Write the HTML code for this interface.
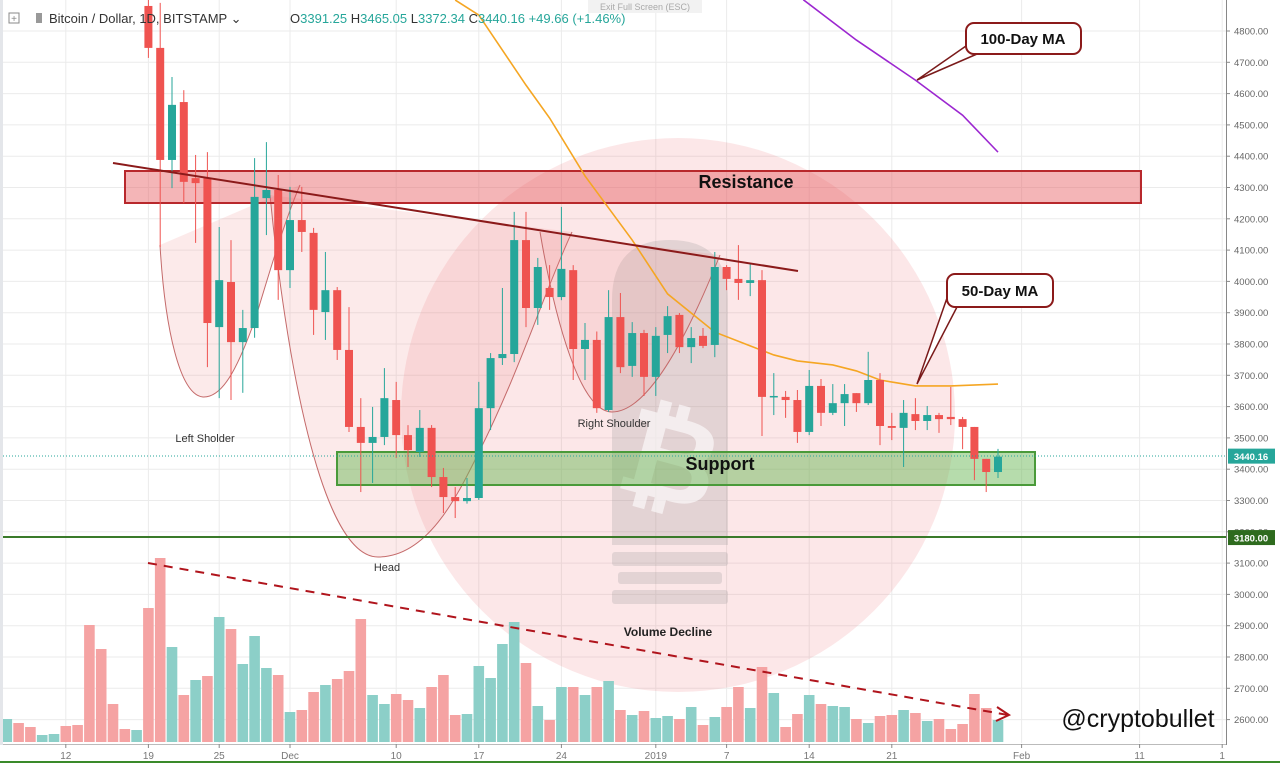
<!DOCTYPE html>
<html><head><meta charset="utf-8"><style>
html,body{margin:0;padding:0;background:#fff;width:1280px;height:763px;overflow:hidden}
svg{display:block;font-family:"Liberation Sans",sans-serif}
</style></head><body>
<svg id="chart" width="1280" height="763" viewBox="0 0 1280 763" xmlns="http://www.w3.org/2000/svg">
<g id="grid"></g>
<circle cx="678" cy="415" r="277" fill="rgba(240,110,120,0.17)"/>
<g fill="rgba(150,150,150,0.25)">
<path d="M612 300 Q612 240 670 240 Q728 240 728 300 L728 545 L612 545 Z"/>
<rect x="612" y="552" width="116" height="14" rx="3"/><rect x="618" y="572" width="104" height="12" rx="3"/><rect x="612" y="590" width="116" height="14" rx="3"/>
<text x="670" y="500" font-size="120" font-weight="bold" text-anchor="middle" fill="rgba(255,255,255,0.6)" transform="rotate(15 670 460)">₿</text>
</g>
<g fill="rgba(240,140,140,0.18)" stroke="#c46a6a" stroke-width="1">
<path d="M160 245 C165 330 180 395 203 397 C225 398 240 360 255 320 C270 270 285 220 300 185"/>
<path d="M270 195 C285 350 320 557 378 557 C430 557 460 490 480 450 C520 370 545 290 572 232"/>
<path d="M540 232 C555 320 580 412 612 412 C650 412 690 330 720 255"/>
</g>
<rect x="125" y="171" width="1016" height="32" fill="rgba(230,90,95,0.45)" stroke="#b8282c" stroke-width="2"/>
<text x="746" y="188" font-size="18" font-weight="bold" text-anchor="middle" fill="#111">Resistance</text>
<rect x="337" y="452" width="698" height="33" fill="rgba(110,185,90,0.5)" stroke="#4a9a3a" stroke-width="2"/>
<g id="ma"></g>
<g id="candles"></g>
<g id="vols"></g>
<text x="720" y="470" font-size="18" font-weight="bold" text-anchor="middle" fill="#111">Support</text>
<line x1="113" y1="163" x2="798" y2="271" stroke="#8b1a1a" stroke-width="2"/>
<line x1="0" y1="456" x2="1226" y2="456" stroke="#26a69a" stroke-width="1" stroke-dasharray="1,2"/>
<line x1="0" y1="537" x2="1226" y2="537" stroke="#3a7a2a" stroke-width="2"/>
<g stroke="#b0141c" stroke-width="2" fill="none">
<line x1="148" y1="563" x2="1008" y2="715" stroke-dasharray="9,7"/>
<path d="M997 707 L1009 715 L996 721"/>
</g>
<text x="668" y="636" font-size="12" font-weight="bold" text-anchor="middle" fill="#222">Volume Decline</text>
<g font-size="11" fill="#333" text-anchor="middle">
<text x="205" y="442">Left Sholder</text>
<text x="387" y="571">Head</text>
<text x="614" y="427">Right Shoulder</text>
</g>
<g>
<path d="M966 46 L917 80 L977 54" fill="#fff" stroke="#7a1a1a" stroke-width="1.5"/>
<rect x="966" y="23" width="115" height="31" rx="8" fill="#fff" stroke="#8b1a1a" stroke-width="2"/>
<text x="1023" y="44" font-size="15" font-weight="bold" text-anchor="middle" fill="#111">100-Day MA</text>
</g>
<g>
<path d="M947 298 L917 384 L957 307" fill="#fff" stroke="#7a1a1a" stroke-width="1.5"/>
<rect x="947" y="274" width="106" height="33" rx="8" fill="#fff" stroke="#8b1a1a" stroke-width="2"/>
<text x="1000" y="296" font-size="15" font-weight="bold" text-anchor="middle" fill="#111">50-Day MA</text>
</g>
<g id="axes"></g>
<text x="1138" y="727" font-size="25" text-anchor="middle" fill="#111">@cryptobullet</text>
<g font-size="13">
<rect x="9" y="13" width="10" height="10" fill="none" stroke="#888"/>
<text x="14" y="22" font-size="10" text-anchor="middle" fill="#888">+</text>
<rect x="36" y="13" width="6" height="10" fill="#999"/>
<text x="49" y="23" fill="#333">Bitcoin / Dollar, 1D, BITSTAMP ⌄</text>
<text x="290" y="23" fill="#333">O<tspan fill="#26a69a">3391.25</tspan>  H<tspan fill="#26a69a">3465.05</tspan>  L<tspan fill="#26a69a">3372.34</tspan>  C<tspan fill="#26a69a">3440.16</tspan>  <tspan fill="#26a69a">+49.66 (+1.46%)</tspan></text>
<rect x="588" y="0" width="114" height="13" fill="#f2f2f2"/>
<text x="645" y="10" font-size="9" text-anchor="middle" fill="#aaa">Exit Full Screen (ESC)</text>
</g>
</svg>
<script>
const candleStart = -12; // Nov 19 relative to Dec 1
const opens  = [4880,4746,4388,4573,4330,4330,3854,3998,3806,3851,4266,4292,4036,4196,4155,3902,3972,3781,3535,3484,3503,3621,3509,3455,3532,3375,3311,3298,3308,3595,3755,3768,4132,3915,3979,3950,4036,3784,3813,3589,3886,3730,3835,3695,3829,3893,3790,3826,3797,4046,4008,3995,4004,3631,3631,3621,3519,3666,3580,3611,3643,3611,3685,3538,3532,3576,3554,3573,3567,3560,3535,3433,3391];
const highs  = [4950,4890,4653,4611,4404,4413,4174,4132,3909,4394,4445,4340,4302,4302,4171,4094,3982,3918,3627,3599,3723,3679,3541,3589,3541,3404,3343,3372,3679,3771,3979,4222,4222,4075,4052,4238,4052,3867,3840,3972,3963,3870,3845,3854,3921,3899,3854,3851,4094,4052,4116,4059,4036,3707,3650,3653,3717,3688,3672,3672,3643,3775,3707,3580,3621,3627,3602,3580,3663,3567,3535,3433,3465];
const lows   = [4714,4110,4298,4250,4123,3726,3627,3621,3644,3820,4148,3941,3979,4094,3829,3813,3749,3519,3327,3356,3477,3436,3407,3439,3343,3260,3244,3290,3302,3525,3733,3742,3854,3861,3909,3940,3685,3685,3580,3583,3707,3695,3634,3634,3771,3771,3739,3787,3758,3972,3941,3953,3506,3573,3564,3484,3509,3538,3573,3538,3583,3605,3477,3493,3407,3525,3525,3516,3541,3464,3365,3327,3372];
const closes = [4746,4388,4564,4318,4314,3867,4004,3806,3851,4270,4292,4036,4196,4158,3909,3972,3781,3535,3484,3503,3627,3509,3461,3532,3375,3311,3298,3308,3595,3755,3768,4132,3915,4046,3950,4040,3784,3813,3595,3886,3726,3835,3695,3826,3889,3790,3819,3794,4046,4008,3995,4004,3631,3634,3621,3519,3666,3580,3611,3640,3611,3685,3538,3532,3580,3554,3573,3560,3560,3535,3433,3391,3440];
const volStart = -24; // Nov 7
const volumes = [23,19,15,7,8,16,17,117,93,38,13,12,134,184,95,47,62,66,125,113,78,106,74,67,30,32,50,57,63,71,123,47,38,48,42,34,55,67,27,28,76,64,98,120,79,36,22,55,55,47,55,61,32,27,31,24,26,23,35,17,25,35,55,34,75,49,15,28,47,38,36,35,23,19,26,27,32,29,21,23,13,18,48,34,22];
const volColors = "grrggrrrrrrgrrgrgrgrgggrgrrgrrrggrrgrrrggggg" + "rgrgrgrgrgrggrgrgrrgrgrrgrggrgrrgrgrrrrrg";
const ma50Days = [14,16,20,22,25,29,32,36,39,41,43,46,48,50,53,56,60];
const ma50Vals = [4899,4851,4627,4522,4337,4132,3960,3838,3794,3765,3746,3733,3714,3685,3666,3666,3672];
const ma100Days = [43.5,48,53,57,60];
const ma100Vals = [4900,4771,4643,4531,4413];
const priceTicks = [4800,4700,4600,4500,4400,4300,4200,4100,4000,3900,3800,3700,3600,3500,3400,3300,3200,3100,3000,2900,2800,2700,2600];
const dateTickDays = [-19,-12,-6,0,9,16,23,31,37,44,51,62,72,79];
const dateTickLabels = ["12","19","25","Dec","10","17","24","2019","7","14","21","Feb","11","1"];

const NS = "http://www.w3.org/2000/svg";
const xD = d => 290 + d * 11.8;
const yP = p => 31 + (4800 - p) * 0.313;
const yV = v => 742 - v;
function mk(tag, attrs, parent){ const e=document.createElementNS(NS,tag); for(const k in attrs) e.setAttribute(k,attrs[k]); parent.appendChild(e); return e; }

const grid = document.getElementById('grid');
priceTicks.forEach(p=>{ const l=mk('line',{x1:0,x2:1226,y1:yP(p),y2:yP(p),stroke:'#ebebeb','stroke-width':1},grid);

 });
dateTickDays.forEach(d=>{ const l=mk('line',{x1:xD(d),x2:xD(d),y1:0,y2:743,stroke:'#ebebeb','stroke-width':1},grid);

 });

const cg = document.getElementById('candles');
opens.forEach((o,i)=>{
  const x = xD(candleStart+i), c = closes[i], up = c>=o;
  const col = up ? '#26a69a' : '#ef5350';
  const g = mk('g',{},cg);
  
  
  mk('line',{x1:x,x2:x,y1:yP(highs[i]),y2:yP(lows[i]),stroke:col,'stroke-width':1},g);
  const t=yP(Math.max(o,c)), b=yP(Math.min(o,c));
  mk('rect',{x:x-4,y:t,width:8,height:Math.max(1.5,b-t),fill:col},g);
});

const vg = document.getElementById('vols');
volumes.forEach((v,i)=>{
  const x = xD(volStart+i);
  const r = mk('rect',{x:x-5.3,y:yV(v),width:10.6,height:v,fill:volColors[i]==='g'?'#8ccfc8':'#f5a3a3'},vg);
  
  
});

const mg = document.getElementById('ma');
const p50 = mk('polyline',{points:ma50Days.map((d,i)=>xD(d)+','+yP(ma50Vals[i])).join(' '),fill:'none',stroke:'#f5a623','stroke-width':1.6},mg);


const p100 = mk('polyline',{points:ma100Days.map((d,i)=>xD(d)+','+yP(ma100Vals[i])).join(' '),fill:'none',stroke:'#9c27d0','stroke-width':1.6},mg);



const ax = document.getElementById('axes');
mk('rect',{x:1227,y:0,width:53,height:763,fill:'#fff'},ax);
mk('line',{x1:1226.5,x2:1226.5,y1:0,y2:745,stroke:'#888'},ax);
mk('line',{x1:0,x2:1226,y1:744.5,y2:744.5,stroke:'#bbb'},ax);
mk('rect',{x:0,y:0,width:3,height:745,fill:'#e4e6ea'},ax);
priceTicks.forEach(p=>{ mk('line',{x1:1226,x2:1230,y1:yP(p),y2:yP(p),stroke:'#888'},ax);
  const t=mk('text',{x:1234,y:yP(p)+3.5,'font-size':9.5,fill:'#666'},ax); t.textContent=p.toFixed(2);
  
   });
dateTickDays.forEach((d,i)=>{ mk('line',{x1:xD(d),x2:xD(d),y1:744,y2:748,stroke:'#888'},ax);
  const t=mk('text',{x:xD(d),y:759,'font-size':10,fill:'#777','text-anchor':'middle'},ax); t.textContent=dateTickLabels[i];
  
   });
const b1=mk('rect',{x:1228,y:yP(3440.16)-8,width:47,height:15,fill:'#26a69a'},ax);


const t1=mk('text',{x:1251,y:yP(3440.16)+3.5,'font-size':9.5,'font-weight':'bold',fill:'#fff','text-anchor':'middle'},ax); t1.textContent='3440.16';
const b2=mk('rect',{x:1228,y:yP(3180)-8,width:47,height:15,fill:'#2e6b1e'},ax);


const t2=mk('text',{x:1251,y:yP(3180)+3.5,'font-size':9.5,'font-weight':'bold',fill:'#fff','text-anchor':'middle'},ax); t2.textContent='3180.00';
mk('rect',{x:0,y:761,width:1280,height:2,fill:'#3a8a2a'},ax);
</script>
</body></html>
